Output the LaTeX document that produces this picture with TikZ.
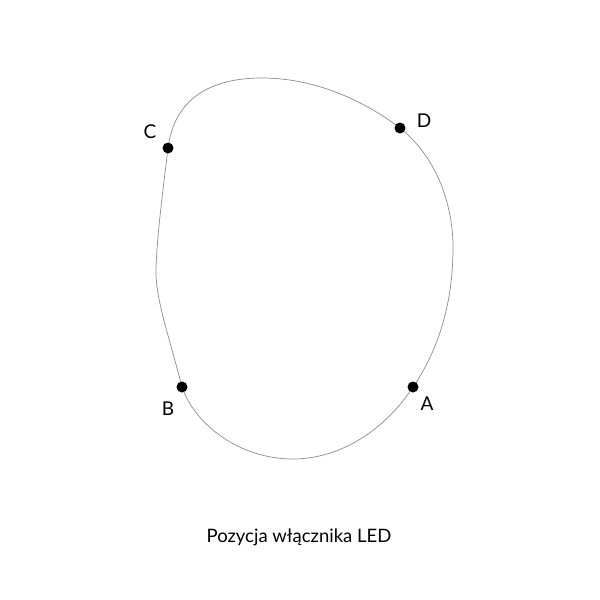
\documentclass[tikz,border=0pt]{standalone}
\usepackage{fontspec}
\setmainfont{Lato}
\begin{document}
\begin{tikzpicture}[x=1pt,y=-1pt,
  outline/.style={draw=black!45, line width=0.7pt},
  dot/.style={circle, fill=black, inner sep=0pt, minimum size=11pt},
  lbl/.style={font=\fontsize{19}{21}\selectfont, inner sep=0pt},
  captiontext/.style={font=\fontsize{18.5}{20}\selectfont, inner sep=0pt}]
\useasboundingbox (0,0) rectangle (600,600);
\draw[outline] (262,78) .. controls (320,78) and (370,105) .. (400,128)
  .. controls (440,160) and (453,210) .. (453,247)
  .. controls (453,310) and (435,355) .. (413,387)
  .. controls (385,430) and (340,459) .. (293,459)
  .. controls (240,459) and (195,425) .. (182,387)
  .. controls (170,340) and (156,300) .. (156,273)
  .. controls (156,240) and (165,175) .. (168,148)
  .. controls (175,95) and (215,78) .. (262,78) -- cycle;
\node[dot] (pA) at (413,387) {};
\node[dot] (pB) at (182,387) {};
\node[dot] (pC) at (168,148) {};
\node[dot] (pD) at (400,128) {};
\node[lbl] (lA) at (427,404) {A};
\node[lbl] (lB) at (168,409) {B};
\node[lbl] (lC) at (150,132) {C};
\node[lbl] (lD) at (424,121) {D};
\node[captiontext] (title) at (299,537) {Pozycja włącznika LED};
\end{tikzpicture}
\end{document}
